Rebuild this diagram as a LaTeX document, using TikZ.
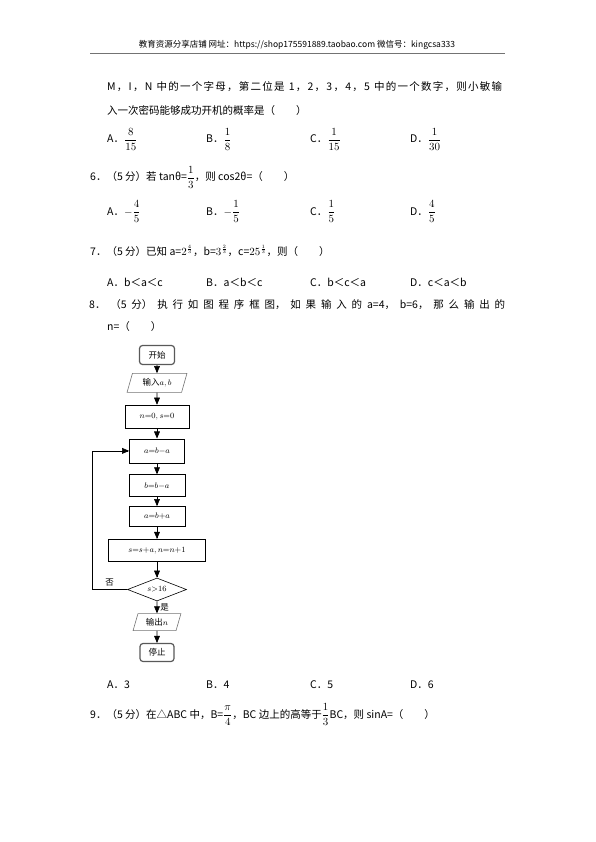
\documentclass[tikz,border=0pt]{standalone}
\usepackage{amsmath}
\usepackage{fontspec}
\setmainfont{Noto Sans CJK SC}
\usetikzlibrary{shapes.geometric}
\usetikzlibrary{arrows}
\usetikzlibrary{positioning}

\begin{document}
\begin{tikzpicture}[
            x=1pt, y=-1pt,
            txt/.style={anchor=base west, inner sep=0pt, font=\fontsize{10.5}{12}\selectfont},
            box/.style={draw=black, line width=0.8pt, inner sep=0pt, font=\fontsize{8.5}{10}\selectfont},
            startstop/.style={box, draw=black!65, line width=1.2pt, rounded corners=3pt},
            io/.style={box, draw=black!55, line width=0.6pt, trapezium, trapezium left angle=70, trapezium right angle=110, trapezium stretches=true},
            decision/.style={box, diamond, aspect=2.5, line width=0.6pt},
            lbl/.style={inner sep=1pt, font=\fontsize{8.5}{10}\selectfont},
            flow/.style={-triangle 45, line width=0.6pt}
        ]
            \useasboundingbox (0,0) rectangle (595,842);
            % header
            \node [anchor=base, inner sep=0pt, font=\fontsize{8.5}{10}\selectfont] (hdr) at (297,48) {教育资源分享店铺 网址：https://shop175591889.taobao.com 微信号：kingcsa333};
            \draw [black!55, line width=1.5pt] (90,53.5) -- (505,53.5);
            % question 5
            \node [txt] (q5a) at (107,91) {\makebox[395pt][s]{\addfontfeatures{LetterSpace=12}M，I，N 中的一个字母，第二位是 1，2，3，4，5 中的一个数字，则小敏输}};
            \node [txt] (q5b) at (107,115) {入一次密码能够成功开机的概率是（\quad\quad）};
            \node [txt] (q5A) at (107,143) {A．$\dfrac{8}{15}$};
            \node [txt] (q5B) at (206,143) {B．$\dfrac{1}{8}$};
            \node [txt] (q5C) at (310,143) {C．$\dfrac{1}{15}$};
            \node [txt] (q5D) at (410,143) {D．$\dfrac{1}{30}$};
            % question 6
            \node [txt] (q6) at (90,181) {6．（5 分）若 tanθ=$\dfrac{1}{3}$，则 cos2θ=（\quad\quad）};
            \node [txt] (q6A) at (107,215) {A．$-\dfrac{4}{5}$};
            \node [txt] (q6B) at (206,215) {B．$-\dfrac{1}{5}$};
            \node [txt] (q6C) at (310,215) {C．$\dfrac{1}{5}$};
            \node [txt] (q6D) at (410,215) {D．$\dfrac{4}{5}$};
            % question 7
            \node [txt] (q7) at (90,255) {7．（5 分）已知 a=$2^{\frac{4}{3}}$，b=$3^{\frac{2}{3}}$，c=$25^{\frac{1}{3}}$，则（\quad\quad）};
            \node [txt] (q7A) at (107,286) {A．b＜a＜c};
            \node [txt] (q7B) at (206,286) {B．a＜b＜c};
            \node [txt] (q7C) at (310,286) {C．b＜c＜a};
            \node [txt] (q7D) at (410,286) {D．c＜a＜b};
            % question 8
            \node [txt] (q8a) at (89,308) {\makebox[416pt][s]{8． （5 分） 执 行 如 图 程 序 框 图， 如 果 输 入 的 a=4， b=6， 那 么 输 出 的}};
            \node [txt] (q8b) at (107,330) {n=（\quad\quad）};
            % flow chart
            \node [startstop, minimum width=35pt, minimum height=19pt] (start) at (157,355) {开始};
            \node [io, below=8pt of start, minimum width=60pt, minimum height=19pt] (input) {输入$a,b$};
            \node [box, below=12pt of input, minimum width=64pt, minimum height=23pt] (init) {$n{=}0,s{=}0$};
            \node [box, below=10pt of init, minimum width=55pt, minimum height=24pt] (stepa) {$a{=}b{-}a$};
            \node [box, below=11pt of stepa, minimum width=56pt, minimum height=22pt] (stepb) {$b{=}b{-}a$};
            \node [box, below=9pt of stepb, minimum width=56pt, minimum height=20pt] (stepc) {$a{=}b{+}a$};
            \node [box, below=12pt of stepc, minimum width=97pt, minimum height=22pt] (update) {$s{=}s{+}a,n{=}n{+}1$};
            \node [decision, below=16pt of update, minimum width=59pt, minimum height=23pt] (cond) {$s{>}16$};
            \node [io, below=12pt of cond, minimum width=48pt, minimum height=17pt] (output) {输出$n$};
            \node [startstop, below=12pt of output, minimum width=34pt, minimum height=18pt] (stop) {停止};
            \draw [flow] (start) -- (input);
            \draw [flow] (input) -- (init);
            \draw [flow] (init) -- (stepa);
            \draw [flow] (stepa) -- (stepb);
            \draw [flow] (stepb) -- (stepc);
            \draw [flow] (stepc) -- (update);
            \draw [flow] (update) -- (cond);
            \draw [flow] (cond) -- node [lbl, right=2pt] (yes) {是} (output);
            \draw [flow] (output) -- (stop);
            \draw [flow] (cond.west) -- node [lbl, above=2pt] (no) {否} ++(-35pt,0) |- (stepa.west);
            % options
            \node [txt] (q8A) at (107,688) {A．3};
            \node [txt] (q8B) at (206,688) {B．4};
            \node [txt] (q8C) at (310,688) {C．5};
            \node [txt] (q8D) at (410,688) {D．6};
            % question 9
            \node [txt] (q9) at (90,718) {9．（5 分）在△ABC 中，B=$\dfrac{\pi}{4}$，BC 边上的高等于$\dfrac{1}{3}$BC，则 sinA=（\quad\quad）};
        \end{tikzpicture}
\end{document}
